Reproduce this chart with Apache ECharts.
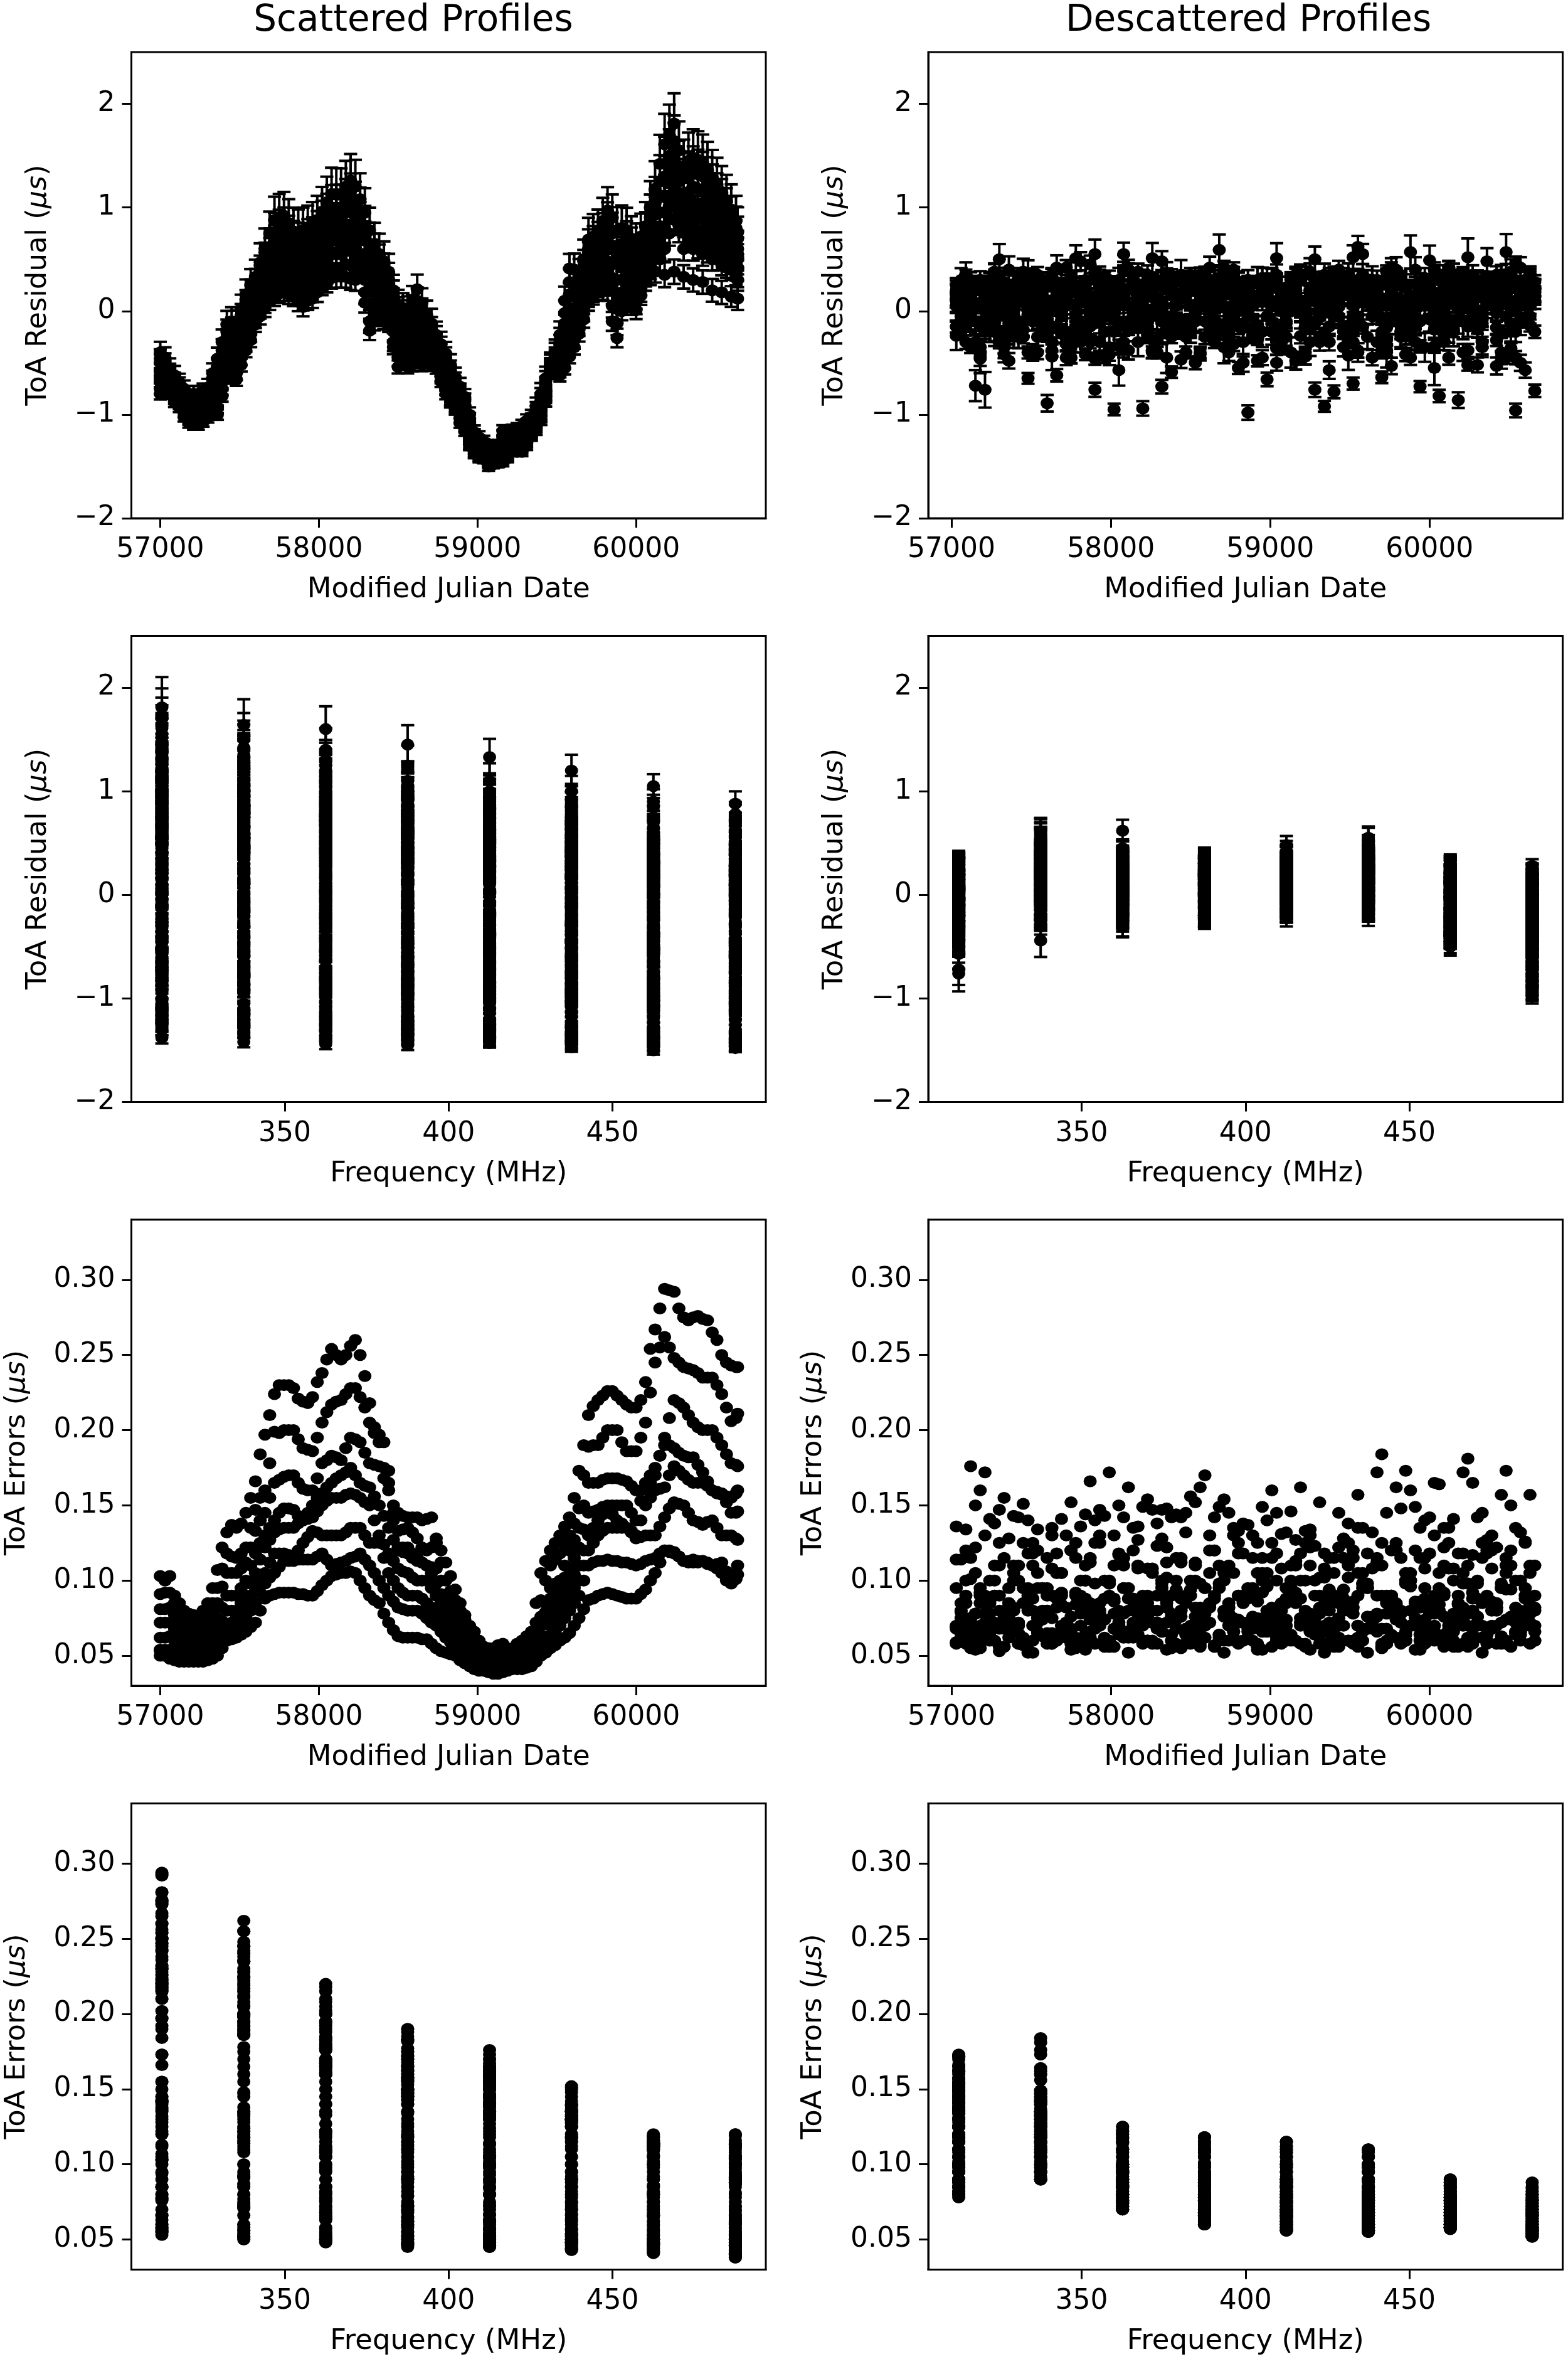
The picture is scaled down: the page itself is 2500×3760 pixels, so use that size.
<!DOCTYPE html>
<html><head><meta charset="utf-8">
<script src="https://cdn.jsdelivr.net/npm/echarts@6/dist/echarts.min.js"></script>
<style>html,body{margin:0;padding:0;background:#fff}#c{width:2500px;height:3760px}</style></head>
<body><div id="c"></div>
<script>
const freqs=[312.5,337.5,362.5,387.5,412.5,437.5,462.5,487.5];
const mjdTicks=[57000,58000,59000,60000];
const freqTicks=[350,400,450];
const resTicks=[-2,-1,0,1,2];
const errTicks=[0.05,0.10,0.15,0.20,0.25,0.30];
const mjdS=[57000,57060,57120,57180,57240,57300,57360,57420,57480,57540,57600,57660,57720,57780,57840,57900,57960,58020,58080,58140,58200,58260,58320,58380,58440,58500,58560,58620,58680,58740,58800,58860,58920,58980,59040,59100,59160,59220,59280,59340,59400,59460,59520,59580,59640,59700,59760,59820,59880,59940,60000,60060,60120,60180,60240,60300,60360,60420,60480,60540,60600,60640];
const mjdA=[57030,57090,57150,57210,57270,57330,57390,57450,57510,57570,57630,57690,57750,57810,57870,57930,57990,58050,58110,58170,58230,58290,58350,58410,58470,58530,58590,58650,58710,58770,58830,58890,58950,59010,59070,59130,59190,59250,59310,59370,59430,59490,59550,59610,59670,59730,59790,59850,59910,59970,60030,60090,60150,60210,60270,60330,60390,60450,60510,60570,60630];
const mjdB=[57060,57120,57180,57240,57300,57360,57420,57480,57540,57600,57660,57720,57780,57840,57900,57960,58020,58080,58140,58200,58260,58320,58380,58440,58500,58560,58620,58680,58740,58800,58860,58920,58980,59040,59100,59160,59220,59280,59340,59400,59460,59520,59580,59640,59700,59760,59820,59880,59940,60000,60060,60120,60180,60240,60300,60360,60420,60480,60540,60600,60660];
// Scattered ToA errors, epochs mjdS, one list per frequency band
const errS0=[.103,.103,.085,.078,.076,.085,.107,.132,.135,.145,.166,.197,.224,.23,.228,.219,.222,.238,.254,.247,.256,.25,.218,.197,.173,.145,.142,.142,.141,.128,.112,.094,.077,.066,.056,.055,.058,.053,.06,.066,.105,.12,.13,.142,.173,.21,.22,.226,.223,.217,.215,.232,.267,.294,.292,.275,.275,.274,.265,.25,.243,.242];
const errS1=[.091,.092,.08,.072,.071,.077,.095,.118,.115,.122,.147,.16,.199,.2,.2,.188,.186,.205,.217,.22,.228,.222,.205,.192,.165,.133,.135,.128,.12,.125,.1,.087,.074,.06,.054,.05,.052,.052,.056,.06,.087,.11,.118,.13,.148,.189,.19,.2,.2,.186,.186,.205,.245,.262,.248,.242,.24,.235,.235,.224,.206,.211];
const errS2=[.081,.082,.072,.065,.064,.072,.085,.105,.105,.112,.133,.145,.165,.169,.17,.161,.16,.178,.183,.18,.195,.192,.178,.176,.16,.122,.122,.115,.11,.108,.09,.08,.07,.057,.052,.048,.05,.05,.053,.058,.076,.095,.1,.12,.135,.165,.165,.168,.168,.166,.16,.161,.17,.195,.22,.215,.205,.2,.2,.19,.178,.176];
const errS3=[.072,.072,.064,.06,.058,.065,.075,.09,.09,.1,.118,.13,.14,.148,.147,.14,.15,.158,.165,.17,.175,.165,.162,.15,.135,.12,.118,.113,.11,.098,.085,.073,.065,.055,.05,.045,.047,.048,.052,.055,.07,.088,.095,.108,.122,.145,.147,.15,.15,.15,.14,.165,.175,.19,.188,.183,.182,.172,.16,.157,.155,.16];
const errS4=[.062,.063,.056,.052,.052,.057,.067,.08,.08,.09,.105,.122,.132,.135,.135,.14,.142,.15,.155,.155,.158,.155,.15,.13,.118,.108,.105,.1,.1,.09,.08,.07,.062,.052,.048,.045,.046,.046,.05,.053,.063,.08,.088,.098,.11,.13,.14,.147,.14,.135,.13,.15,.16,.162,.176,.17,.165,.165,.16,.158,.145,.146];
const errS5=[.054,.054,.05,.048,.048,.052,.062,.07,.075,.085,.095,.105,.118,.118,.115,.125,.133,.13,.13,.13,.135,.135,.125,.125,.105,.095,.09,.09,.085,.078,.07,.064,.056,.05,.046,.043,.044,.044,.047,.05,.057,.07,.08,.09,.1,.12,.13,.135,.135,.135,.128,.13,.13,.142,.152,.15,.14,.137,.14,.13,.13,.127];
const errS6=[.05,.05,.047,.047,.047,.05,.055,.065,.068,.075,.085,.098,.105,.113,.113,.114,.114,.118,.11,.112,.115,.118,.11,.1,.09,.082,.08,.08,.075,.07,.062,.056,.05,.047,.044,.041,.042,.043,.045,.047,.053,.062,.07,.08,.09,.11,.113,.114,.113,.112,.11,.113,.115,.12,.118,.113,.112,.113,.11,.112,.1,.11];
const errS7=[.0535,.048,.046,.046,.046,.047,.05,.06,.062,.066,.072,.088,.091,.092,.092,.091,.09,.097,.103,.105,.106,.1,.09,.085,.072,.063,.062,.062,.061,.055,.052,.05,.045,.041,.04,.038,.039,.041,.041,.043,.05,.055,.06,.065,.075,.087,.09,.092,.09,.088,.088,.094,.105,.12,.119,.113,.114,.113,.11,.105,.098,.104];
// Scattered ToA errors, epochs mjdA
const errT0=[.1,.09,.08,.077,.08,.095,.122,.137,.138,.155,.184,.21,.23,.23,.221,.218,.232,.247,.25,.25,.26,.236,.202,.192,.15,.143,.142,.14,.142,.12,.103,.085,.07,.06,.055,.057,.055,.058,.063,.085,.113,.125,.136,.155,.19,.216,.223,.226,.22,.215,.22,.254,.281,.293,.281,.273,.276,.273,.26,.245,.242];
const errT1=[.092,.085,.075,.071,.073,.085,.108,.116,.118,.135,.155,.178,.198,.2,.194,.187,.195,.212,.219,.224,.228,.215,.198,.175,.145,.134,.132,.122,.122,.112,.093,.08,.066,.056,.052,.051,.052,.054,.058,.072,.1,.114,.124,.138,.17,.19,.195,.2,.192,.186,.195,.225,.255,.255,.245,.241,.238,.235,.23,.215,.208];
const errT2=[.081,.077,.068,.064,.068,.078,.096,.105,.108,.122,.14,.155,.167,.17,.165,.16,.168,.18,.182,.188,.194,.185,.177,.168,.14,.122,.118,.112,.109,.1,.085,.075,.063,.054,.05,.049,.05,.051,.055,.066,.085,.098,.11,.127,.15,.165,.167,.168,.167,.163,.16,.165,.183,.208,.218,.21,.202,.2,.195,.184,.177];
const errT3=[.072,.068,.062,.059,.062,.07,.082,.09,.095,.11,.125,.135,.145,.148,.143,.145,.155,.162,.168,.172,.17,.163,.156,.143,.127,.119,.115,.112,.105,.091,.079,.069,.06,.052,.048,.046,.047,.05,.053,.062,.079,.092,.102,.115,.134,.146,.149,.15,.15,.145,.153,.17,.183,.19,.185,.182,.177,.166,.158,.156,.158];
const errT4=[.062,.06,.054,.052,.054,.062,.073,.08,.085,.098,.114,.127,.134,.135,.138,.141,.146,.153,.155,.157,.157,.152,.14,.124,.113,.106,.102,.1,.095,.085,.075,.066,.057,.05,.046,.045,.046,.048,.051,.058,.072,.084,.093,.104,.12,.135,.144,.144,.138,.133,.14,.155,.161,.17,.173,.167,.165,.163,.159,.152,.145];
const errT5=[.054,.052,.049,.048,.05,.057,.066,.072,.08,.09,.1,.112,.118,.117,.12,.129,.132,.13,.13,.132,.135,.13,.125,.115,.1,.092,.09,.088,.082,.074,.067,.06,.053,.048,.044,.043,.044,.045,.048,.053,.063,.075,.085,.095,.11,.125,.133,.135,.135,.132,.129,.13,.136,.148,.151,.145,.139,.139,.135,.13,.128];
const errT6=[.05,.048,.047,.047,.048,.052,.06,.066,.072,.08,.092,.102,.109,.113,.114,.114,.116,.114,.111,.113,.116,.114,.105,.095,.086,.081,.08,.078,.072,.066,.059,.053,.048,.045,.042,.041,.042,.044,.046,.05,.057,.066,.075,.085,.1,.112,.113,.113,.112,.111,.111,.114,.118,.119,.116,.112,.112,.112,.111,.106,.105];
const errT7=[.05,.047,.046,.046,.046,.048,.055,.061,.064,.069,.08,.09,.092,.092,.091,.09,.093,.1,.104,.105,.105,.095,.087,.078,.067,.062,.062,.061,.058,.053,.051,.047,.043,.04,.039,.038,.04,.041,.042,.046,.052,.057,.062,.07,.081,.088,.091,.091,.089,.088,.091,.1,.112,.12,.116,.113,.113,.111,.108,.1,.101];
// Scattered ToA residuals, epochs mjdS
const resS0=[-.4,-.56,-.69,-.8,-.8,-.74,-.46,-.13,-.13,.16,.33,.6,.88,.92,.77,.78,.83,.96,1.13,1.13,1.26,1.08,.78,.55,.38,.06,0,.21,-.04,-.23,-.41,-.64,-.83,-1.17,-1.26,-1.3,-1.16,-1.15,-1.11,-1.02,-.8,-.52,-.23,.41,.33,.69,.76,.97,.78,.78,.63,.82,1.18,1.61,1.81,1.38,1.48,1.43,1.29,1.15,.98,.76];
const resS1=[-.46,-.6,-.72,-.84,-.85,-.78,-.55,-.2,-.2,.08,.26,.5,.75,.8,.67,.66,.72,.86,1,1,1.1,.97,.65,.45,.3,0,-.07,.1,-.1,-.27,-.45,-.68,-.87,-1.2,-1.29,-1.33,-1.2,-1.19,-1.15,-1.05,-.83,-.53,-.28,.28,.25,.6,.67,.85,.62,.68,.55,.75,1.05,1.42,1.64,1.28,1.35,1.3,1.18,1.05,.9,.7];
const resS2=[-.5,-.63,-.76,-.88,-.9,-.82,-.62,-.28,-.3,0,.18,.42,.66,.7,.58,.56,.62,.74,.9,.9,1,.86,.5,.35,.2,-.06,-.15,-.03,-.18,-.32,-.5,-.73,-.92,-1.24,-1.32,-1.36,-1.25,-1.22,-1.18,-1.08,-.87,-.55,-.33,.16,.16,.5,.58,.72,.5,.6,.45,.65,.93,1.3,1.6,1.1,1.2,1.15,1.05,.95,.8,.6];
const resS3=[-.58,-.67,-.8,-.93,-.95,-.88,-.7,-.36,-.38,-.08,.1,.33,.54,.58,.47,.46,.5,.63,.76,.76,.82,.76,.35,.25,.13,-.16,-.24,-.13,-.24,-.38,-.6,-.78,-.98,-1.28,-1.35,-1.38,-1.3,-1.26,-1.23,-1.12,-.9,-.56,-.41,.03,.07,.42,.5,.6,.3,.5,.35,.57,.8,1.1,1.45,1,1.05,1,.95,.85,.7,.55];
const resS4=[-.62,-.7,-.83,-.96,-.98,-.9,-.77,-.42,-.45,-.15,.03,.25,.46,.5,.4,.36,.42,.55,.68,.66,.72,.68,.2,.15,.05,-.25,-.3,-.2,-.3,-.42,-.65,-.82,-1.03,-1.3,-1.37,-1.41,-1.34,-1.28,-1.26,-1.14,-.95,-.57,-.47,-.08,0,.33,.42,.48,.15,.42,.25,.48,.7,.95,1.33,.95,.95,.9,.85,.75,.6,.5];
const resS5=[-.68,-.74,-.86,-1,-1.03,-.95,-.85,-.5,-.52,-.24,-.03,.16,.35,.4,.32,.24,.3,.43,.55,.55,.58,.55,.05,.05,-.02,-.35,-.38,-.3,-.37,-.47,-.7,-.87,-1.08,-1.33,-1.4,-1.44,-1.39,-1.32,-1.3,-1.17,-1,-.58,-.52,-.2,-.08,.24,.33,.38,.02,.33,.15,.4,.6,.8,1.2,.9,.85,.78,.72,.62,.5,.42];
const resS6=[-.75,-.78,-.9,-1.05,-1.07,-1,-.93,-.58,-.6,-.32,-.08,.08,.22,.28,.22,.12,.2,.32,.42,.42,.44,.45,-.1,-.02,-.08,-.45,-.46,-.4,-.43,-.5,-.75,-.92,-1.12,-1.36,-1.42,-1.47,-1.43,-1.34,-1.33,-1.19,-1.02,-.59,-.57,-.33,-.15,.15,.25,.28,-.12,.25,.08,.35,1.05,.35,.38,.33,.3,.28,.2,.18,.14,.12];
const resS7=[-.8,-.8,-.93,-1.08,-1.1,-1.03,-1,-.64,-.66,-.38,-.13,.03,.14,.19,.14,.04,.12,.25,.32,.33,.31,.38,-.19,-.06,-.13,-.54,-.54,-.49,-.49,-.55,-.8,-.95,-1.16,-1.38,-1.43,-1.48,-1.46,-1.36,-1.36,-1.21,-1.05,-.6,-.62,-.44,-.22,.09,.19,.19,-.26,.19,.01,.29,.38,.6,.88,.6,.6,.55,.5,.45,.4,.3];
// Scattered ToA residuals, epochs mjdA
const resT0=[-.45,-.62,-.75,-.8,-.78,-.6,-.3,-.1,.02,.25,.47,.75,.9,.85,.76,.8,.88,1.05,1.13,1.2,1.2,.95,.65,.48,.2,.03,.1,.08,-.12,-.32,-.52,-.73,-1,-1.22,-1.38,-1.3,-1.18,-1.14,-1.06,-.92,-.65,-.4,.1,.4,.5,.72,.87,.9,.8,.7,.72,1,1.42,1.7,1.55,1.45,1.46,1.36,1.22,1.07,.87];
const resT1=[-.5,-.68,-.8,-.86,-.83,-.66,-.38,-.18,-.05,.17,.38,.62,.78,.72,.66,.7,.77,.92,1,1.05,1.02,.8,.55,.38,.15,-.03,.02,0,-.18,-.36,-.57,-.78,-1.05,-1.26,-1.42,-1.33,-1.22,-1.17,-1.1,-.95,-.68,-.42,-.02,.26,.42,.63,.75,.75,.65,.62,.65,.9,1.25,1.5,1.4,1.3,1.32,1.25,1.1,.97,.8];
const resT2=[-.56,-.7,-.82,-.9,-.86,-.72,-.45,-.28,-.15,.08,.3,.55,.68,.62,.58,.6,.68,.82,.9,.95,.92,.68,.42,.28,.08,-.1,-.08,-.1,-.25,-.42,-.62,-.83,-1.1,-1.3,-1.44,-1.37,-1.26,-1.2,-1.13,-.98,-.72,-.45,-.12,.14,.33,.53,.65,.62,.55,.52,.55,.78,1.1,1.4,1.25,1.15,1.18,1.1,.98,.87,.7];
const resT3=[-.62,-.74,-.86,-.95,-.9,-.8,-.52,-.36,-.22,0,.22,.45,.57,.52,.47,.5,.57,.7,.78,.8,.78,.55,.3,.18,0,-.2,-.18,-.2,-.32,-.5,-.68,-.88,-1.15,-1.32,-1.45,-1.4,-1.3,-1.24,-1.17,-1.02,-.75,-.47,-.22,.02,.24,.45,.55,.45,.42,.4,.45,.68,.95,1.25,1.1,1,1.03,.97,.88,.77,.6];
const resT4=[-.66,-.78,-.9,-.98,-.93,-.85,-.6,-.44,-.3,-.07,.15,.36,.48,.45,.38,.4,.48,.62,.68,.7,.65,.43,.18,.1,-.1,-.28,-.27,-.28,-.38,-.55,-.73,-.93,-1.2,-1.35,-1.42,-1.43,-1.33,-1.26,-1.2,-1.05,-.78,-.5,-.3,-.08,.15,.37,.46,.32,.3,.3,.36,.58,.82,1.1,1,.92,.9,.86,.78,.68,.52];
const resT5=[-.7,-.82,-.93,-1.02,-.98,-.9,-.68,-.5,-.38,-.14,.08,.27,.38,.36,.3,.3,.38,.5,.55,.58,.52,.3,.08,0,-.2,-.35,-.35,-.36,-.43,-.6,-.78,-.98,-1.23,-1.37,-1.47,-1.45,-1.37,-1.3,-1.23,-1.08,-.8,-.52,-.38,-.18,.08,.28,.37,.2,.18,.2,.28,.5,.7,1,.92,.85,.78,.74,.68,.58,.45];
const resT6=[-.75,-.85,-.98,-1.06,-1.03,-.96,-.75,-.58,-.45,-.22,.02,.18,.27,.25,.2,.2,.28,.38,.42,.45,.4,.18,-.02,-.08,-.3,-.45,-.44,-.45,-.48,-.63,-.85,-1.03,-1.28,-1.4,-1.5,-1.46,-1.4,-1.33,-1.27,-1.12,-.83,-.57,-.48,-.28,0,.2,.28,.05,.08,.1,.2,.42,.6,.9,.85,.75,.7,.65,.6,.5,.4];
const resT7=[-.8,-.88,-1.02,-1.1,-1.07,-1,-.82,-.64,-.52,-.28,-.05,.1,.17,.16,.09,.1,.18,.28,.33,.33,.3,.08,-.1,-.1,-.35,-.5,-.52,-.52,-.52,-.68,-.88,-1.08,-1.3,-1.42,-1.47,-1.47,-1.42,-1.36,-1.3,-1.15,-.87,-.6,-.55,-.35,-.08,.15,.2,-.1,0,.05,.15,.35,.5,.75,.78,.68,.62,.58,.5,.42,.35];
// Descattered ToA errors: even bands on mjdA, odd bands on mjdB
const errD0=[.136,.134,.15,.172,.138,.155,.143,.151,.125,.08,.13,.141,.152,.136,.166,.147,.172,.15,.162,.136,.154,.138,.148,.144,.145,.152,.17,.142,.154,.135,.138,.13,.149,.16,.131,.146,.162,.134,.152,.085,.145,.138,.157,.118,.172,.145,.162,.173,.149,.14,.165,.135,.141,.172,.165,.145,.13,.157,.15,.078,.157];
const errD1=[.114,.176,.16,.141,.147,.128,.142,.14,.134,.115,.118,.13,.125,.144,.14,.143,.13,.142,.135,.149,.147,.147,.142,.142,.156,.162,.13,.149,.145,.133,.137,.125,.14,.145,.132,.127,.133,.123,.118,.105,.128,.115,.135,.132,.184,.12,.148,.16,.135,.142,.164,.135,.118,.181,.142,.127,.122,.173,.135,.126,.11];
const errD2=[.114,.1,.122,.09,.11,.08,.105,.095,.118,.075,.108,.09,.12,.1,.085,.125,.098,.117,.08,.11,.09,.123,.102,.115,.085,.11,.095,.12,.1,.075,.118,.09,.105,.115,.085,.11,.1,.122,.08,.115,.09,.125,.105,.095,.11,.085,.12,.1,.075,.115,.09,.122,.108,.098,.117,.085,.12,.095,.11,.08,.11];
const errD3=[.079,.101,.092,.065,.11,.085,.07,.118,.095,.08,.105,.062,.09,.11,.075,.1,.068,.115,.088,.072,.108,.095,.078,.112,.065,.098,.085,.11,.07,.118,.09,.075,.105,.06,.095,.113,.08,.1,.07,.09,.115,.078,.105,.068,.11,.088,.072,.1,.115,.065,.092,.108,.08,.098,.07,.118,.085,.105,.075,.095,.08];
const errD4=[.069,.09,.078,.062,.1,.072,.11,.085,.06,.095,.075,.105,.068,.088,.115,.07,.098,.08,.062,.108,.085,.072,.112,.092,.065,.1,.078,.088,.06,.105,.072,.095,.115,.082,.065,.1,.075,.11,.09,.058,.085,.102,.07,.095,.112,.078,.062,.098,.085,.108,.07,.09,.06,.105,.08,.115,.068,.095,.075,.1,.07];
const errD5=[.06,.075,.055,.085,.068,.095,.058,.08,.105,.065,.09,.072,.058,.1,.078,.062,.088,.11,.07,.082,.06,.098,.075,.055,.09,.068,.105,.06,.085,.072,.095,.056,.08,.1,.066,.09,.058,.075,.108,.068,.085,.06,.098,.072,.055,.09,.08,.105,.064,.078,.095,.06,.085,.07,.1,.058,.082,.11,.066,.09,.07];
const errD6=[.059,.07,.065,.085,.06,.075,.068,.057,.08,.063,.09,.07,.058,.078,.066,.085,.06,.072,.088,.064,.076,.058,.082,.068,.09,.062,.074,.057,.08,.066,.086,.06,.072,.078,.063,.088,.058,.07,.082,.065,.075,.06,.09,.068,.078,.058,.084,.064,.072,.088,.06,.076,.066,.082,.058,.07,.086,.063,.074,.06,.078];
const errD7=[.062,.055,.07,.06,.053,.075,.058,.052,.065,.08,.06,.072,.055,.054,.068,.06,.056,.078,.062,.07,.058,.066,.055,.08,.06,.056,.072,.064,.082,.058,.07,.054,.066,.076,.06,.085,.056,.07,.052,.062,.088,.058,.066,.074,.056,.08,.062,.07,.054,.084,.06,.068,.076,.056,.072,.06,.082,.058,.066,.074,.06];
// Descattered ToA errors: even bands on mjdB, odd bands on mjdA
const errU0=[.08,.115,.09,.1,.125,.085,.11,.095,.12,.09,.105,.082,.115,.1,.125,.088,.11,.095,.12,.085,.105,.128,.09,.115,.1,.082,.12,.095,.11,.125,.088,.105,.098,.118,.085,.11,.125,.09,.102,.115,.08,.12,.095,.108,.125,.09,.115,.1,.082,.118,.105,.125,.09,.11,.098,.12,.085,.115,.1,.125,.09];
const errU1=[.095,.12,.105,.13,.09,.115,.1,.125,.11,.095,.135,.105,.12,.09,.112,.13,.1,.118,.095,.127,.108,.09,.122,.1,.132,.112,.095,.12,.105,.13,.09,.115,.1,.125,.108,.095,.118,.13,.102,.09,.122,.11,.135,.098,.115,.09,.125,.105,.12,.095,.13,.11,.1,.118,.092,.125,.108,.098,.12,.132,.105];
const errU2=[.085,.07,.095,.078,.09,.072,.1,.082,.075,.095,.088,.07,.092,.08,.098,.074,.086,.095,.072,.09,.08,.1,.076,.088,.094,.07,.084,.098,.078,.09,.072,.086,.096,.08,.074,.092,.1,.076,.088,.07,.094,.082,.098,.074,.09,.08,.072,.096,.086,.078,.092,.07,.084,.098,.076,.09,.08,.094,.072,.088,.082];
const errU3=[.07,.085,.062,.078,.09,.068,.08,.06,.088,.074,.065,.092,.076,.084,.062,.07,.09,.078,.066,.086,.06,.08,.072,.094,.064,.082,.07,.09,.076,.062,.085,.068,.092,.074,.08,.06,.088,.066,.078,.094,.07,.084,.062,.076,.09,.068,.082,.06,.086,.074,.066,.092,.078,.07,.088,.062,.08,.072,.094,.066,.084];
const errU4=[.075,.06,.085,.068,.056,.08,.065,.09,.072,.058,.082,.07,.062,.088,.074,.056,.078,.066,.086,.06,.072,.09,.064,.08,.058,.07,.084,.062,.076,.09,.066,.056,.08,.07,.088,.06,.074,.064,.082,.056,.07,.086,.06,.076,.068,.09,.058,.08,.072,.062,.084,.066,.056,.078,.088,.064,.07,.06,.082,.074,.066];
const errU5=[.068,.058,.078,.064,.072,.056,.082,.06,.07,.076,.058,.084,.066,.06,.074,.08,.056,.07,.064,.078,.06,.072,.085,.058,.068,.076,.062,.056,.08,.07,.06,.074,.066,.056,.082,.064,.07,.078,.058,.072,.062,.08,.056,.068,.076,.06,.085,.066,.07,.058,.078,.064,.056,.074,.08,.062,.068,.058,.076,.064,.072];
const errU6=[.065,.075,.06,.07,.08,.062,.072,.058,.066,.078,.06,.07,.084,.064,.058,.074,.068,.062,.08,.058,.072,.066,.06,.076,.07,.058,.082,.064,.06,.074,.068,.058,.078,.062,.07,.06,.076,.066,.058,.072,.084,.06,.068,.074,.058,.064,.078,.07,.06,.066,.08,.058,.072,.062,.076,.068,.058,.074,.064,.07,.06];
const errU7=[.058,.066,.054,.072,.06,.056,.07,.062,.052,.076,.058,.066,.054,.07,.06,.078,.056,.064,.052,.072,.06,.068,.054,.074,.058,.062,.07,.056,.052,.066,.06,.076,.054,.068,.058,.062,.072,.054,.064,.08,.056,.06,.07,.052,.066,.058,.074,.06,.054,.068,.062,.056,.072,.058,.064,.052,.07,.06,.056,.066,.058];
// Descattered ToA residuals: even bands on mjdA, odd bands on mjdB
const resD0=[-.24,.1,-.72,-.76,-.2,-.3,.2,-.1,.05,-.2,-.44,.25,-.35,.15,-.3,-.1,-.35,-.57,.05,-.3,.2,-.05,-.45,.1,-.25,.2,-.1,.25,-.35,.05,-.3,.1,-.2,.25,-.15,-.4,.1,-.3,.2,-.57,.1,-.43,.25,-.25,.05,-.4,.25,-.15,.15,-.35,-.55,.2,-.2,-.1,.2,-.3,.1,-.4,.05,-.5,.2];
const resD1=[.3,.2,-.44,.05,.5,.4,-.1,.35,-.25,.1,.42,-.2,.51,.3,.55,-.2,.1,.4,-.05,.25,.51,-.1,.2,.35,-.15,.05,.3,.59,-.1,.25,.1,.3,-.05,.51,.2,.3,-.15,.5,.1,.3,.2,.52,.1,.3,.05,.35,-.2,.57,.2,.49,.1,.35,-.1,.52,.25,.48,.15,.57,.1,.3,.2];
const resD2=[.15,.3,-.1,.2,.35,0,-.25,.25,.1,-.1,.3,0,.2,-.3,.45,.1,0,.3,-.15,.15,.35,.25,-.05,.1,.3,-.1,.2,.3,.05,.35,-.15,.1,.2,.3,0,.2,.35,-.1,.15,.3,-.05,.2,.62,.1,-.3,.25,.4,.05,.15,.3,-.1,.2,.35,.05,-.05,.3,.15,.35,-.2,.1,.3];
const resD3=[.1,-.1,.2,.3,-.2,.15,.3,.05,.2,-.15,.1,.25,-.05,.2,.35,.1,.25,-.1,.3,.05,.2,.3,-.05,.15,.35,.1,-.15,.2,.3,0,.25,-.2,.15,.3,.05,.2,.35,-.1,.1,.25,.3,-.05,.35,.15,-.2,.2,.3,.05,-.1,.25,.35,.1,.2,-.15,.3,.05,.25,.35,0,.15,.1];
const resD4=[.25,-.05,.2,0,.3,.15,-.15,.1,.35,.2,.05,-.2,.3,.48,-.05,.25,.15,.1,.4,-.1,.2,.05,.3,.15,-.15,.25,.35,.1,.42,-.05,.2,.15,.3,.05,-.2,.25,.1,.35,0,.2,.4,.15,-.1,.3,.2,.05,.35,.1,-.15,.25,.4,0,.2,.3,-.1,.15,.05,.3,.25,.42,-.05];
const resD5=[.2,.3,.05,-.15,.35,.1,.25,-.05,.15,.3,.2,.42,.05,-.2,.3,.1,.25,.55,0,.2,.3,.48,.15,-.1,.25,.35,.42,.05,.2,-.15,.3,.1,.2,.35,.05,.25,-.1,.15,.35,.2,.3,.05,.55,.2,.1,.42,.3,-.15,.2,.05,.3,.42,.15,.25,-.05,.2,.35,.1,.46,.25,.15];
const resD6=[.05,-.05,-.3,.2,-.15,-.42,.1,.3,-.4,0,-.3,.2,-.45,-.1,.15,-.3,-.42,.05,-.38,.1,-.15,-.4,.25,-.2,.3,-.5,.05,-.3,.2,-.1,-.5,-.25,-.45,.1,-.35,.05,-.45,.2,-.3,.05,.3,-.2,-.4,.1,.25,-.38,.05,-.42,-.3,.2,0,-.3,.1,-.4,.05,-.35,.2,-.45,.3,-.1,.05];
const resD7=[.05,-.35,-.46,-.1,.1,-.48,.2,-.65,-.4,-.89,-.62,-.45,-.15,-.42,-.76,-.44,-.95,-.37,0,-.94,-.4,-.73,-.59,-.47,-.2,-.4,.1,.28,-.4,-.55,-.98,-.48,-.66,-.5,-.1,-.48,-.4,-.76,-.92,-.78,-.35,-.7,.15,-.45,-.64,-.53,-.05,-.45,-.73,.2,-.82,-.45,-.86,-.52,-.52,.12,-.53,-.45,-.96,-.57,-.77];
// Descattered ToA residuals: even bands on mjdB, odd bands on mjdA
const resU0=[-.1,.15,.25,-.2,.05,.2,-.25,.1,-.05,.28,-.15,.05,.2,-.1,.3,0,-.2,.15,.25,-.05,-.28,.1,.22,-.15,.05,.28,-.1,.15,-.22,.2,0,-.15,.25,.08,-.25,.18,.02,-.12,.28,-.05,.15,-.2,.22,.05,-.1,.2,-.25,.12,.28,-.08,.15,-.18,.05,.25,-.12,.2,-.02,.28,-.2,.1,.15];
const resU1=[.2,.35,.05,-.1,.25,-.2,.1,.38,.15,-.05,.28,.1,.35,-.15,.05,.3,.2,-.1,.4,.12,-.2,.25,.35,.05,.18,-.08,.3,.1,.38,-.12,.22,.05,.32,-.2,.15,.28,.02,.38,.1,-.15,.25,.35,-.05,.2,.1,.32,-.1,.25,.4,.05,.18,-.18,.3,.12,.35,-.02,.22,.08,.38,-.1,.28];
const resU2=[0,.2,-.15,.3,.1,-.25,.22,.05,.35,-.1,.15,.28,-.2,.08,.32,-.05,.18,.38,-.12,.25,.02,-.22,.3,.12,-.08,.35,.05,-.18,.22,.28,-.02,.15,.32,-.25,.1,.2,-.1,.3,.05,.36,-.15,.18,.25,-.05,.12,.33,-.2,.08,.28,.15,-.1,.35,.02,.2,-.18,.28,.1,-.05,.3,.15,.22];
const resU3=[.05,-.15,.22,.1,-.2,.28,0,.15,-.1,.3,.08,-.22,.18,.25,-.05,.12,.3,-.15,.05,.2,-.25,.1,.28,-.08,.15,.02,.3,-.18,.22,.06,-.12,.26,.1,-.2,.18,.3,-.02,.14,-.25,.22,.04,.28,-.1,.16,.3,-.16,.08,.24,-.06,.2,.12,-.22,.27,.02,.18,-.12,.3,.06,-.2,.24,.1];
const resU4=[-.05,.15,.3,-.15,.08,.22,.35,0,.18,-.1,.28,.1,-.2,.25,.05,.32,-.08,.16,.3,-.12,.2,.02,.34,.12,-.18,.26,.06,.3,-.05,.2,.1,-.15,.28,.04,.18,.35,-.1,.14,.25,.02,-.2,.3,.1,.22,-.06,.18,.33,-.14,.08,.26,.12,-.08,.3,.16,0,.24,-.16,.34,.1,.2,.28];
const resU5=[.1,.3,-.1,.2,.38,0,.15,-.18,.28,.08,.35,-.05,.22,.12,-.15,.32,.05,.25,-.12,.38,.18,.02,.28,-.2,.14,.34,.08,-.08,.25,.4,.1,-.16,.2,.3,.04,.16,.36,-.1,.24,.06,.32,-.14,.18,.28,0,.38,.12,-.06,.26,.16,-.18,.3,.08,.35,.2,-.02,.14,.28,-.12,.22,.36];
const resU6=[-.2,-.05,-.35,.1,-.28,-.12,.22,-.4,-.02,-.22,.15,-.32,.05,-.18,-.46,.12,-.08,-.3,.2,-.15,-.38,.02,-.25,.28,-.1,-.42,.08,-.2,-.32,.15,-.05,-.27,.22,-.36,-.12,.05,-.44,.12,-.22,-.05,.25,-.3,-.15,.18,-.4,-.08,.1,-.25,-.34,.2,-.02,-.18,.28,-.38,-.1,.08,-.28,.16,-.45,-.06,-.2];
const resU7=[-.15,-.3,.05,-.2,-.05,-.35,.1,-.25,.2,-.12,-.38,.02,-.22,.15,-.3,-.08,.08,-.34,-.18,.22,-.05,-.28,-.12,.12,-.4,-.02,-.25,.18,-.15,-.32,.05,-.2,.25,-.1,-.36,.02,-.24,.14,-.06,-.3,.1,-.16,-.38,.2,-.02,-.28,.08,-.22,-.12,.16,-.34,.03,-.18,.24,-.08,-.3,.12,-.2,-.36,.05,-.14];

const FONT='"DejaVu Sans"', FS=44;
function table(res,err,mjdOf){const t=[];res.forEach((r,b)=>r.forEach((v,i)=>{const m=mjdOf(b)[i];if(m!==undefined&&err[b][i]!==undefined)t.push({m,f:freqs[b],r:v,e:err[b][i]});}));return t;}
const dataS=table([resS0,resS1,resS2,resS3,resS4,resS5,resS6,resS7],[errS0,errS1,errS2,errS3,errS4,errS5,errS6,errS7],()=>mjdS)
 .concat(table([resT0,resT1,resT2,resT3,resT4,resT5,resT6,resT7],[errT0,errT1,errT2,errT3,errT4,errT5,errT6,errT7],()=>mjdA));
const dataD=table([resD0,resD1,resD2,resD3,resD4,resD5,resD6,resD7],[errD0,errD1,errD2,errD3,errD4,errD5,errD6,errD7],b=>b%2?mjdB:mjdA)
 .concat(table([resU0,resU1,resU2,resU3,resU4,resU5,resU6,resU7],[errU0,errU1,errU2,errU3,errU4,errU5,errU6,errU7],b=>b%2?mjdA:mjdB));

const W=1011.5,H=743,lefts=[209.5,1480],tops=[83,1013.5,1944,2874.5];
const titleStyle={fontFamily:FONT,fontSize:58,fontWeight:'normal',color:'#000'};
const opt={animation:false,backgroundColor:'#fff',grid:[],xAxis:[],yAxis:[],series:[],
 title:[{text:'Scattered Profiles',left:654,top:0,textAlign:'center',textStyle:titleStyle},
        {text:'Descattered Profiles',left:1985.5,top:0,textAlign:'center',textStyle:titleStyle}]};
const axisCommon={axisLine:{onZero:false,lineStyle:{color:'#000',width:3}},splitLine:{show:false},
  axisTick:{length:15,lineStyle:{color:'#000',width:3}},nameLocation:'middle',
  nameTextStyle:{fontFamily:FONT,fontSize:45,color:'#000',rich:{i:{fontFamily:FONT,fontStyle:'italic',fontSize:45,color:'#000'}}}};
function addPanel(col,row,d){
  const idx=opt.grid.length, isMjd=row%2===0, isRes=row<2;
  opt.grid.push({left:lefts[col],top:tops[row],width:W,height:H,show:true,borderColor:'#000',borderWidth:3,backgroundColor:'transparent',containLabel:false});
  const xr=isMjd?(col===0?[56818,60818]:[56854,60835]):[303.2,496.8];
  const ticksX=isMjd?mjdTicks:freqTicks, ticksY=isRes?resTicks:errTicks;
  const fmtY=isRes?(v=>String(v).replace('-','\u2212')):(v=>v.toFixed(2));
  opt.xAxis.push({...axisCommon,gridIndex:idx,type:'value',min:xr[0],max:xr[1],name:isMjd?'Modified Julian Date':'Frequency (MHz)',nameGap:92,
    axisTick:{...axisCommon.axisTick,customValues:ticksX},
    axisLabel:{customValues:ticksX,margin:29,fontFamily:FONT,fontSize:FS,color:'#000',formatter:v=>String(v)}});
  opt.yAxis.push({...axisCommon,gridIndex:idx,type:'value',min:isRes?-2:0.03,max:isRes?2.5:0.34,name:isRes?'ToA Residual ({i|\u03bcs})':'ToA Errors ({i|\u03bcs})',nameGap:isRes?126:160,
    axisTick:{...axisCommon.axisTick,customValues:ticksY},
    axisLabel:{customValues:ticksY,margin:26,fontFamily:FONT,fontSize:FS,color:'#000',formatter:fmtY}});
  const pts=d.map(p=>[isMjd?p.m:p.f,isRes?p.r:p.e,p.e]);
  if(isRes) opt.series.push({type:'custom',xAxisIndex:idx,yAxisIndex:idx,silent:true,clip:false,data:pts,encode:{x:0,y:1},progressive:0,
    renderItem(params,api){
      const x=api.value(0),y=api.value(1),e=api.value(2);
      const a=api.coord([x,y+e]),b=api.coord([x,y-e]);const style={stroke:'#000',lineWidth:4,fill:null};
      return {type:'group',children:[
        {type:'line',shape:{x1:a[0],y1:a[1],x2:b[0],y2:b[1]},style},
        {type:'line',shape:{x1:a[0]-10.5,y1:a[1],x2:a[0]+10.5,y2:a[1]},style},
        {type:'line',shape:{x1:b[0]-10.5,y1:b[1],x2:b[0]+10.5,y2:b[1]},style}]};
    }});
  opt.series.push({type:'scatter',xAxisIndex:idx,yAxisIndex:idx,silent:true,data:pts.map(p=>[p[0],p[1]]),symbol:'circle',symbolSize:[21,19],itemStyle:{color:'#000',opacity:1},progressive:0,large:false});
}
[dataS,dataD].forEach((d,col)=>{for(let row=0;row<4;row++)addPanel(col,row,d);});
const chart=echarts.init(document.getElementById('c'),null,{renderer:'canvas',width:2500,height:3760});
chart.setOption(opt);
</script></body></html>
